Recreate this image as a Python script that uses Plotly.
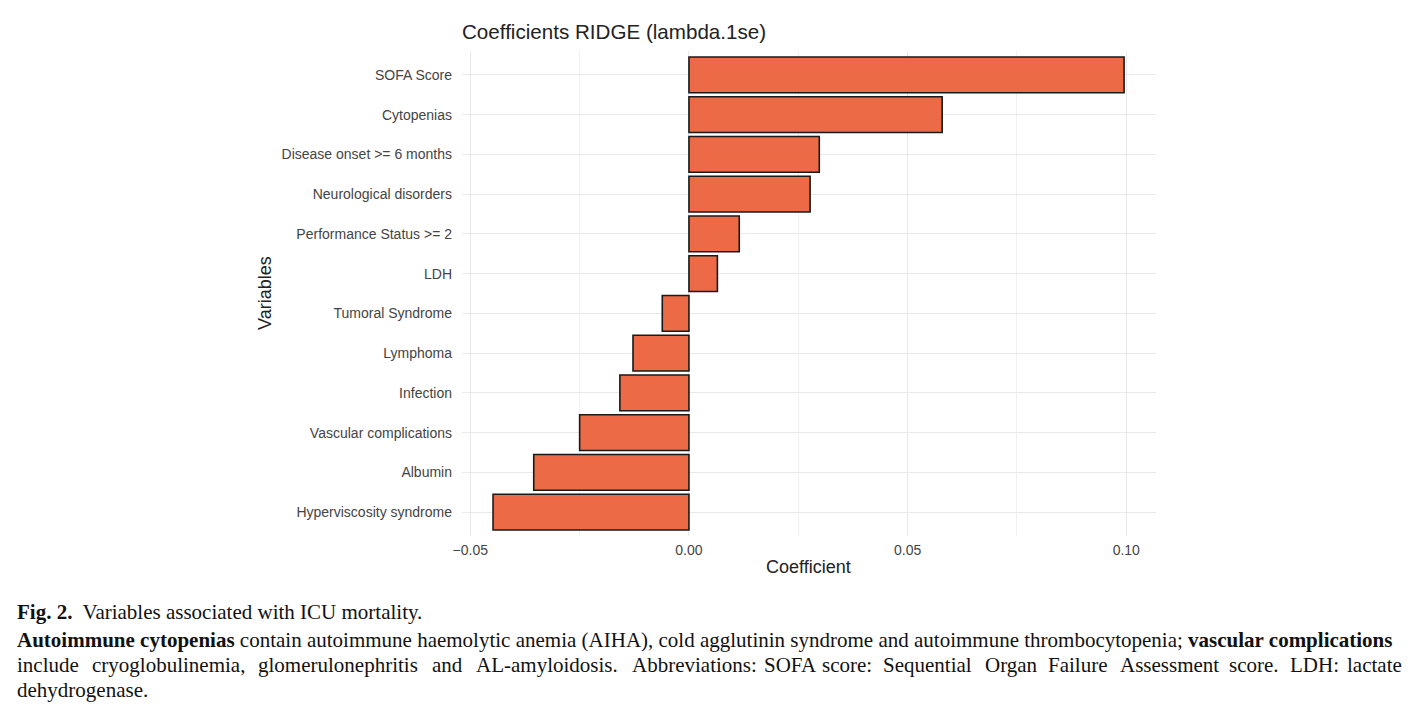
import plotly.graph_objects as go

# coefficients
variables = ["SOFA Score", "Cytopenias", "Disease onset >= 6 months",
             "Neurological disorders", "Performance Status >= 2", "LDH",
             "Tumoral Syndrome", "Lymphoma", "Infection",
             "Vascular complications", "Albumin", "Hyperviscosity syndrome"]
coefficients = [0.0995, 0.0579, 0.0298, 0.0277, 0.0115, 0.0065,
                -0.0061, -0.0128, -0.0158, -0.0250, -0.0355, -0.0448]
x_ticks = [-0.05, 0.0, 0.05, 0.10]
x_ticktext = ["\u22120.05", "0.00", "0.05", "0.10"]

# page body adds an 8px margin, so the figure is drawn 8px smaller and
# positions below are screen coordinates shifted by that margin
OFF = 8
W, H = 1424 - OFF, 716 - OFF
L, T = 462 - OFF, 51 - OFF
R, B = W - (1156 - OFF), H - (536 - OFF)
PW, PH = W - L - R, H - T - B


def px(x):
    return (x - OFF - L) / PW


def py(y):
    return (H - B - (y - OFF)) / PH


fig = go.Figure()
fig.add_trace(go.Bar(
    x=coefficients, y=variables, orientation="h", width=0.9,
    marker=dict(color="#EC6A46", line=dict(color="#1a1a1a", width=1.6)),
))

sans = "Liberation Sans, Arial, sans-serif"
serif = "Liberation Serif, Times New Roman, serif"
cap = dict(family=serif, size=21, color="#111111")

fig.update_layout(
    width=W, height=H,
    margin=dict(l=L, r=R, t=T, b=B, autoexpand=False),
    paper_bgcolor="white", plot_bgcolor="white",
    showlegend=False,
    title=dict(text="Coefficients RIDGE (lambda.1se)", x=0, xref="paper",
               xanchor="left", y=1 - (32 - OFF) / H, yanchor="middle",
               font=dict(family=sans, size=20.6, color="#222222")),
    xaxis=dict(range=[-0.0519, 0.1068], tickvals=x_ticks, ticktext=x_ticktext,
               showgrid=True, gridcolor="#E9E9E9", gridwidth=1.4, zeroline=False,
               minor=dict(dtick=0.025, tick0=0, showgrid=True, gridcolor="#F1F1F1", gridwidth=0.9),
               ticks="", ticklabelstandoff=4,
               tickfont=dict(family=sans, size=14, color="#444444"), automargin=False),
    yaxis=dict(range=[11.6, -0.6], showgrid=True, gridcolor="#E9E9E9", gridwidth=1.4,
               zeroline=False, ticks="", ticklabelstandoff=9,
               tickfont=dict(family=sans, size=14, color="#444444"), automargin=False),
)

annotations = [
    dict(text="Coefficient", x=px(808), y=py(567), font=dict(family=sans, size=18, color="#222222")),
    dict(text="Variables", x=px(265), y=py(293), textangle=-90, font=dict(family=sans, size=18, color="#222222")),
    dict(text="<b>Fig. 2.</b>  Variables associated with ICU mortality.", x=px(15), y=py(612),
         xanchor="left", font=cap),
    dict(text="<b>Autoimmune cytopenias</b> contain autoimmune haemolytic anemia (AIHA), cold agglutinin "
              "syndrome and autoimmune thrombocytopenia; <b>vascular complications</b>",
         x=px(15), y=py(640), xanchor="left", font=cap),
    dict(text="dehydrogenase.", x=px(15), y=py(690), xanchor="left", font=cap),
]

# justified third caption line, word by word
line3_words = ["include", "cryoglobulinemia,", "glomerulonephritis", "and", "AL-amyloidosis.",
               "Abbreviations:", "SOFA", "score:", "Sequential", "Organ", "Failure",
               "Assessment", "score.", "LDH:", "lactate"]
line3_left = [15, 90, 256, 430, 474, 630, 762, 820, 881, 983, 1046, 1118, 1227, 1288, 1345]
for w, x0 in zip(line3_words, line3_left):
    annotations.append(dict(text=w, x=px(x0), y=py(665), xanchor="left", font=cap))

for a in annotations:
    a.setdefault("xanchor", "center")
    a.update(xref="paper", yref="paper", yanchor="middle", showarrow=False)
fig.update_layout(annotations=annotations)

fig.write_html("out.html")
